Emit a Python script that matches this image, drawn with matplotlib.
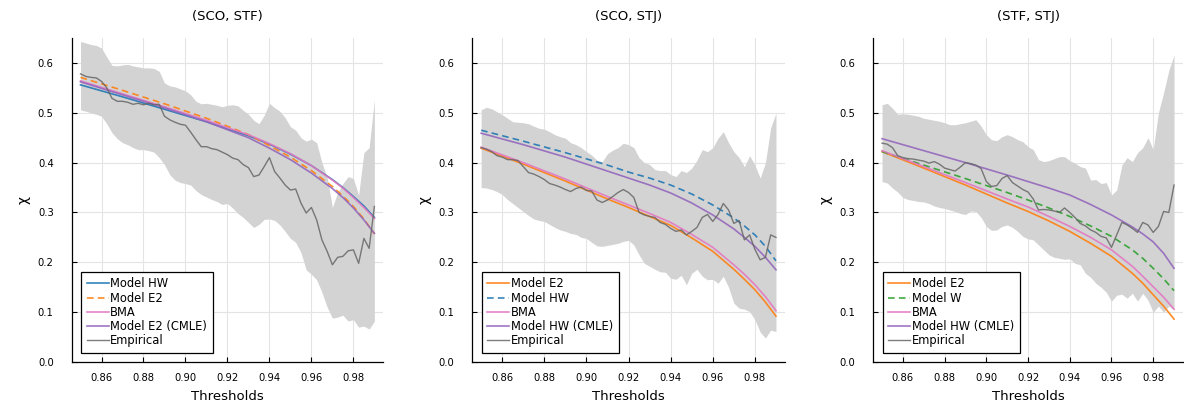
import numpy as np
import matplotlib
matplotlib.use("Agg")
import matplotlib.pyplot as plt

plt.rcParams['font.family'] = ['DejaVu Sans']

# thresholds used for the empirical estimate and its band
thresholds = np.round(np.arange(0.85, 0.99001, 0.0025), 4)
# thresholds where the model curves were read
model_t = [0.85, 0.87, 0.89, 0.91, 0.92, 0.93, 0.94, 0.95, 0.96, 0.97, 0.975, 0.98, 0.985, 0.99]

titles = ["(SCO, STF)", "(SCO, STJ)", "(STF, STJ)"]

# ---------------- panel 1 : (SCO, STF) ----------------
p1_hw = [0.556, 0.532, 0.507, 0.482, 0.468, 0.454, 0.437, 0.417, 0.394, 0.366, 0.350, 0.332, 0.313, 0.290]
p1_e2 = [0.571, 0.545, 0.518, 0.489, 0.473, 0.456, 0.434, 0.411, 0.384, 0.352, 0.333, 0.312, 0.287, 0.257]
p1_bma = [0.564, 0.538, 0.512, 0.485, 0.470, 0.456, 0.438, 0.418, 0.394, 0.365, 0.349, 0.330, 0.310, 0.288]
p1_e2_cmle = [0.562, 0.536, 0.510, 0.482, 0.466, 0.450, 0.429, 0.406, 0.379, 0.348, 0.330, 0.309, 0.285, 0.258]
p1_emp = [0.578, 0.573, 0.571, 0.570,
          0.563, 0.550, 0.529, 0.523,
          0.523, 0.521, 0.517, 0.519,
          0.516, 0.519, 0.516, 0.517,
          0.493, 0.486, 0.481, 0.477,
          0.475, 0.461, 0.446, 0.432,
          0.432, 0.428, 0.426, 0.421,
          0.416, 0.409, 0.406, 0.396,
          0.390, 0.372, 0.375, 0.392,
          0.410, 0.382, 0.369, 0.355,
          0.345, 0.347, 0.319, 0.299,
          0.310, 0.285, 0.245, 0.222,
          0.195, 0.210, 0.212, 0.223,
          0.225, 0.198, 0.248, 0.228,
          0.312]
p1_hi = [0.643, 0.640, 0.637, 0.635,
         0.630, 0.612, 0.595, 0.594,
         0.596, 0.597, 0.594, 0.592,
         0.590, 0.590, 0.589, 0.583,
         0.560, 0.554, 0.552, 0.548,
         0.544, 0.536, 0.523, 0.518,
         0.519, 0.517, 0.515, 0.512,
         0.515, 0.516, 0.514, 0.505,
         0.497, 0.485, 0.478, 0.495,
         0.519, 0.510, 0.503, 0.490,
         0.472, 0.465, 0.450, 0.443,
         0.447, 0.440, 0.400, 0.370,
         0.310, 0.340, 0.358, 0.372,
         0.368, 0.335, 0.420, 0.430,
         0.526]
p1_lo = [0.506, 0.503, 0.500, 0.497,
         0.493, 0.478, 0.460, 0.448,
         0.440, 0.436, 0.430, 0.426,
         0.426, 0.424, 0.421, 0.410,
         0.396, 0.376, 0.365, 0.360,
         0.358, 0.355, 0.344, 0.336,
         0.331, 0.326, 0.322, 0.316,
         0.318, 0.309, 0.298, 0.290,
         0.280, 0.270, 0.276, 0.286,
         0.287, 0.284, 0.275, 0.262,
         0.248, 0.240, 0.220, 0.185,
         0.176, 0.165, 0.140, 0.110,
         0.088, 0.090, 0.094, 0.082,
         0.085, 0.070, 0.072, 0.066,
         0.082]

# ---------------- panel 2 : (SCO, STJ) ----------------
p2_e2 = [0.429, 0.397, 0.363, 0.327, 0.310, 0.292, 0.274, 0.249, 0.222, 0.186, 0.166, 0.145, 0.120, 0.092]
p2_hw = [0.465, 0.443, 0.420, 0.395, 0.381, 0.369, 0.355, 0.337, 0.315, 0.289, 0.273, 0.255, 0.232, 0.203]
p2_bma = [0.431, 0.400, 0.367, 0.332, 0.315, 0.298, 0.280, 0.256, 0.230, 0.195, 0.176, 0.155, 0.131, 0.103]
p2_hw_cmle = [0.459, 0.436, 0.411, 0.383, 0.369, 0.355, 0.339, 0.319, 0.295, 0.267, 0.250, 0.232, 0.210, 0.185]
p2_emp = [0.430, 0.427, 0.422, 0.414,
          0.411, 0.406, 0.406, 0.404,
          0.392, 0.380, 0.377, 0.372,
          0.366, 0.358, 0.355, 0.351,
          0.346, 0.342, 0.348, 0.351,
          0.344, 0.343, 0.325, 0.320,
          0.325, 0.332, 0.340, 0.346,
          0.340, 0.330, 0.300, 0.295,
          0.292, 0.290, 0.280, 0.276,
          0.268, 0.262, 0.265, 0.255,
          0.262, 0.270, 0.290, 0.296,
          0.282, 0.296, 0.318, 0.305,
          0.278, 0.284, 0.245, 0.255,
          0.226, 0.205, 0.210, 0.255,
          0.250]
p2_hi = [0.506, 0.511, 0.508, 0.502,
         0.496, 0.489, 0.482, 0.481,
         0.480, 0.478, 0.473, 0.469,
         0.467, 0.462, 0.456, 0.452,
         0.449, 0.440, 0.436, 0.430,
         0.422, 0.415, 0.405, 0.402,
         0.418, 0.425, 0.430, 0.439,
         0.436, 0.430, 0.410, 0.400,
         0.396, 0.386, 0.384, 0.384,
         0.376, 0.372, 0.384, 0.380,
         0.389, 0.405, 0.426, 0.422,
         0.430, 0.449, 0.462, 0.440,
         0.422, 0.410, 0.392, 0.414,
         0.395, 0.369, 0.400, 0.470,
         0.499]
p2_lo = [0.350, 0.349, 0.346, 0.342,
         0.336, 0.326, 0.318, 0.310,
         0.302, 0.294, 0.287, 0.284,
         0.282, 0.276, 0.270, 0.265,
         0.262, 0.258, 0.256, 0.250,
         0.248, 0.240, 0.233, 0.232,
         0.234, 0.236, 0.238, 0.242,
         0.244, 0.235, 0.215, 0.198,
         0.192, 0.186, 0.181, 0.180,
         0.168, 0.166, 0.174, 0.155,
         0.178, 0.186, 0.172, 0.165,
         0.166, 0.158, 0.172, 0.150,
         0.118, 0.108, 0.106, 0.101,
         0.085, 0.060, 0.048, 0.064,
         0.061]

# ---------------- panel 3 : (STF, STJ) ----------------
p3_e2 = [0.422, 0.389, 0.355, 0.319, 0.302, 0.283, 0.262, 0.238, 0.212, 0.178, 0.158, 0.135, 0.112, 0.086]
p3_w = [0.422, 0.395, 0.368, 0.340, 0.325, 0.309, 0.292, 0.273, 0.252, 0.225, 0.208, 0.188, 0.167, 0.143]
p3_bma = [0.424, 0.392, 0.360, 0.327, 0.311, 0.292, 0.272, 0.250, 0.225, 0.192, 0.172, 0.151, 0.130, 0.106]
p3_hw_cmle = [0.448, 0.424, 0.400, 0.375, 0.362, 0.349, 0.335, 0.316, 0.295, 0.271, 0.257, 0.241, 0.218, 0.188]
p3_emp = [0.439, 0.437, 0.430, 0.414,
          0.410, 0.408, 0.407, 0.405,
          0.403, 0.399, 0.402, 0.397,
          0.389, 0.386, 0.383, 0.391,
          0.400, 0.398, 0.395, 0.388,
          0.362, 0.352, 0.354, 0.368,
          0.374, 0.360, 0.353, 0.346,
          0.341, 0.327, 0.305, 0.306,
          0.305, 0.303, 0.300, 0.309,
          0.300, 0.290, 0.278, 0.273,
          0.265, 0.260, 0.252, 0.249,
          0.230, 0.255, 0.280, 0.275,
          0.268, 0.260, 0.280, 0.275,
          0.260, 0.272, 0.302, 0.300,
          0.355]
p3_hi = [0.516, 0.519, 0.509, 0.497,
         0.498, 0.497, 0.495, 0.493,
         0.489, 0.487, 0.485, 0.483,
         0.480, 0.476, 0.476, 0.478,
         0.480, 0.483, 0.486, 0.473,
         0.456, 0.446, 0.444, 0.452,
         0.456, 0.452, 0.446, 0.442,
         0.432, 0.426, 0.406, 0.402,
         0.404, 0.408, 0.412, 0.412,
         0.404, 0.399, 0.392, 0.389,
         0.365, 0.366, 0.358, 0.360,
         0.335, 0.345, 0.395, 0.410,
         0.402, 0.420, 0.430, 0.450,
         0.426, 0.500, 0.540, 0.585,
         0.616]
p3_lo = [0.362, 0.359, 0.349, 0.341,
         0.330, 0.326, 0.324, 0.322,
         0.321, 0.318, 0.313, 0.310,
         0.308, 0.305, 0.302, 0.298,
         0.296, 0.303, 0.302, 0.290,
         0.272, 0.264, 0.265, 0.272,
         0.275, 0.270, 0.262, 0.252,
         0.247, 0.245, 0.235, 0.225,
         0.215, 0.210, 0.208, 0.206,
         0.207, 0.198, 0.195, 0.178,
         0.170, 0.158, 0.150, 0.140,
         0.122, 0.134, 0.136, 0.128,
         0.138, 0.122, 0.138, 0.124,
         0.100, 0.112, 0.100, 0.112,
         0.104]

BLUE, ORANGE, PINK, PURPLE, GREEN = '#1f77b4', '#ff7f0e', '#e377c2', '#9467bd', '#2ca02c'
EMP = '#666666'
BAND = '#d3d3d3'

# (label, values, colour, dashed)
panels = [
    ([("Model HW", p1_hw, BLUE, False), ("Model E2", p1_e2, ORANGE, True),
      ("BMA", p1_bma, PINK, False), ("Model E2 (CMLE)", p1_e2_cmle, PURPLE, False)],
     p1_emp, p1_lo, p1_hi),
    ([("Model E2", p2_e2, ORANGE, False), ("Model HW", p2_hw, BLUE, True),
      ("BMA", p2_bma, PINK, False), ("Model HW (CMLE)", p2_hw_cmle, PURPLE, False)],
     p2_emp, p2_lo, p2_hi),
    ([("Model E2", p3_e2, ORANGE, False), ("Model W", p3_w, GREEN, True),
      ("BMA", p3_bma, PINK, False), ("Model HW (CMLE)", p3_hw_cmle, PURPLE, False)],
     p3_emp, p3_lo, p3_hi),
]

W, H = 1184, 409
fig = plt.figure(figsize=(W / 100, H / 100), dpi=100)
lefts = [71.7, 472.3, 873.3]
widths = [311.5, 312.5, 309.5]

for i, (models, emp, lo, hi) in enumerate(panels):
    ax = fig.add_axes([lefts[i] / W, 47 / H, widths[i] / W, 324 / H])
    ax.fill_between(thresholds, lo, hi, color=BAND, lw=0, zorder=1)
    for label, vals, col, dashed in models:
        ax.plot(model_t, vals, color=col, lw=1.2, alpha=0.9, zorder=3,
                ls=(0, (4, 2.5)) if dashed else '-', label=label)
    ax.plot(thresholds, emp, color=EMP, lw=1.0, alpha=0.85, zorder=4, label="Empirical")

    ax.set_xlim(0.8458, 0.9942)
    ax.set_ylim(0, 0.65)
    ax.set_xticks([0.86, 0.88, 0.90, 0.92, 0.94, 0.96, 0.98])
    ax.set_xticklabels(["0.86", "0.88", "0.90", "0.92", "0.94", "0.96", "0.98"])
    ax.set_yticks([0.0, 0.1, 0.2, 0.3, 0.4, 0.5, 0.6])
    ax.set_yticklabels(["0.0", "0.1", "0.2", "0.3", "0.4", "0.5", "0.6"])
    ax.grid(True, color='#e4e4e4', lw=0.8, zorder=0)
    ax.set_axisbelow(True)
    for s in ['top', 'right']:
        ax.spines[s].set_visible(False)
    for s in ['left', 'bottom']:
        ax.spines[s].set_linewidth(0.9)
    ax.tick_params(axis='x', direction='in', length=3.5, width=0.8, labelsize=7.2, pad=8)
    ax.tick_params(axis='y', direction='in', length=3.5, width=0.8, labelsize=7.2, pad=13)
    ax.set_title(titles[i], fontsize=9.5, pad=13)
    ax.set_xlabel("Thresholds", fontsize=9.5, labelpad=5)
    ax.set_ylabel("χ", fontsize=10, labelpad=5)

    leg = ax.legend(loc='lower left', fontsize=8.3, handlelength=1.9, handletextpad=0.15,
                    labelspacing=0.1, borderpad=0.5, borderaxespad=0.8,
                    fancybox=False, framealpha=1, edgecolor='black')
    leg.get_frame().set_linewidth(0.9)

fig.savefig("out.png", dpi=100)
